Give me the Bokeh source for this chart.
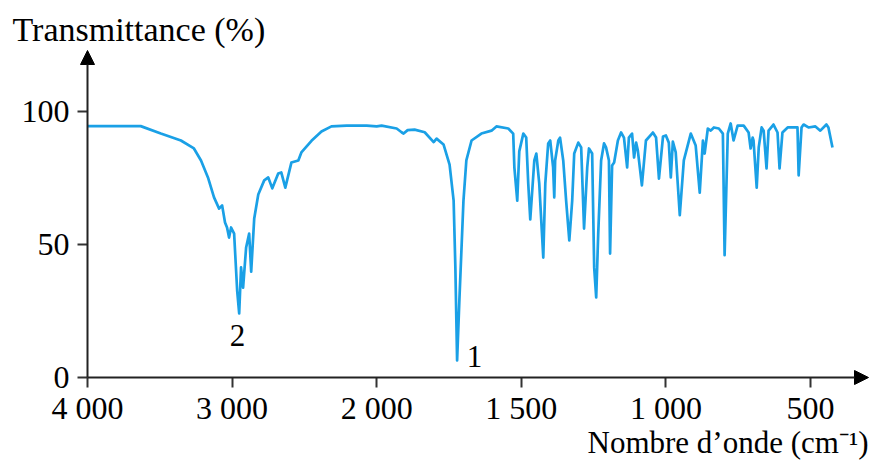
from bokeh.plotting import figure
from bokeh.models import Range1d, FixedTicker, Arrow, NormalHead, Label
from bokeh.embed import file_html
from bokeh.resources import INLINE

# ---- data ----
wavenumber = [4000, 3632, 3493, 3354, 3264, 3215, 3167, 3125, 3090, 3069, 3049, 3035, 3021, 3007,
              2986, 2965, 2951, 2938, 2924, 2903, 2882, 2868, 2847, 2819, 2778, 2750, 2722, 2681,
              2660, 2632, 2590, 2542, 2521, 2451, 2382, 2313, 2208, 2069, 2000,
              1983, 1931, 1914, 1907, 1893, 1869, 1834, 1803, 1793, 1769, 1748, 1734, 1728, 1722,
              1714, 1700, 1690, 1672, 1638, 1603, 1586, 1545, 1528, 1524, 1514, 1507, 1493, 1483,
              1476, 1469, 1455, 1448, 1438, 1424, 1417, 1407, 1400, 1390, 1386, 1383, 1372, 1366,
              1355, 1345, 1334, 1324, 1317, 1303, 1293, 1283, 1272, 1266, 1255, 1248, 1241, 1234,
              1224, 1214, 1207, 1197, 1193, 1186, 1179, 1166, 1155, 1145, 1134, 1128, 1117, 1110,
              1103, 1097, 1083, 1069, 1045, 1034, 1024, 1010, 1000, 990, 983, 976, 966, 952, 938,
              914, 897, 883, 872, 866, 855, 845, 834, 817, 803, 797, 786, 776, 766, 752, 731, 714,
              707, 700, 697, 686, 679, 669, 662, 652, 645, 628, 614, 607, 597, 579, 545, 541, 531,
              524, 507, 483, 466, 445, 438, 424]
transmittance = [94.5, 94.5, 91.7, 89.1, 86.1, 81.6, 75.2, 67.7, 63.5, 64.7, 58.3, 56.4, 52.6, 56.4,
                 54.1, 32.7, 24.1, 41.4, 33.8, 48.9, 54.1, 39.8, 59.8, 68.8, 74.1, 75.2, 71.1, 76.7,
                 77.1, 71.4, 80.8, 81.6, 84.6, 89.0, 92.5, 94.4, 94.7, 94.7, 94.4,
                 94.7, 93.6, 92.2, 91.7, 93.0, 93.2, 92.2, 88.5, 89.8, 87.6, 80.0, 66.5, 41.4, 6.4,
                 29.3, 66.5, 81.6, 89.1, 91.7, 92.8, 94.4, 93.6, 91.7, 79.0, 66.5, 85.0, 91.7, 90.2,
                 73.0, 59.4, 81.6, 84.2, 73.0, 45.1, 73.0, 88.0, 89.1, 79.0, 67.7, 81.6, 89.1, 90.2,
                 81.6, 66.5, 51.5, 66.5, 84.2, 88.3, 86.5, 56.0, 79.0, 86.1, 84.2, 41.4, 30.1, 54.1,
                 81.6, 88.0, 86.5, 81.6, 46.6, 79.7, 80.8, 89.1, 92.1, 90.2, 79.0, 90.2, 91.7, 82.7,
                 88.3, 85.3, 72.2, 89.1, 92.1, 90.2, 74.8, 90.6, 91.0, 88.3, 75.2, 88.7, 84.6, 61.0, 81.6,
                 91.7, 87.2, 69.5, 89.1, 84.2, 93.6, 92.8, 94.0, 93.6, 91.7, 46.0, 91.7, 95.5, 89.1, 94.7, 94.7, 92.1,
                 86.1, 90.2, 89.1, 71.4, 86.5, 94.0, 92.8, 78.6, 92.8, 95.1, 92.1, 78.6, 92.1, 94.0, 94.0, 76.0, 94.0,
                 95.1, 94.0, 94.4, 92.8, 95.1, 94.0, 86.5]

tick_wavenumbers = [4000, 3000, 2000, 1500, 1000, 500]
tick_labels = ["4 000", "3 000", "2 000", "1 500", "1 000", "500"]
y_ticks = [0, 50, 100]
peak_labels = ["2", "1"]
peak_wavenumbers = [2951, 1722]
peak_values = [24.1, 6.4]


# The x-axis changes scale at 2000 cm-1 (twice as wide below 2000)
def tx(w):
    return (4000 - w) / 1000 if w >= 2000 else 2 + (2000 - w) / 500


xs = [tx(w) for w in wavenumber]
tick_pos = [tx(w) for w in tick_wavenumbers]

FONT = "Liberation Serif"
W, H = 870, 462
PX_U = 144.6      # pixels per x unit
PX_Y = 2.66       # pixels per % transmittance
X0_PX, Y0_PX = 87, 377   # pixel position of the origin

x_start = -X0_PX / PX_U
x_end = (W - X0_PX) / PX_U
y_start = -(H - Y0_PX) / PX_Y
y_end = Y0_PX / PX_Y
ARROW_X = (868 - X0_PX) / PX_U
ARROW_Y = (Y0_PX - 50) / PX_Y

p = figure(width=W, height=H, output_backend="svg", toolbar_location=None,
           x_range=Range1d(x_start, x_end), y_range=Range1d(y_start, y_end),
           min_border=0)
p.outline_line_color = None
p.grid.visible = False
p.background_fill_color = "white"

p.line(xs, transmittance, line_color="#1AA0E6", line_width=2.7, line_join="round")

for ax in (p.xaxis[0], p.yaxis[0]):
    ax.fixed_location = 0
    ax.axis_line_color = None
    ax.major_tick_in = 0
    ax.major_tick_out = 10
    ax.major_tick_line_width = 2
    ax.major_tick_line_color = "#333333"
    ax.minor_tick_line_color = None
    ax.major_label_text_font = FONT
    ax.major_label_text_font_size = "32px"
    ax.major_label_text_color = "black"

p.xaxis.ticker = FixedTicker(ticks=tick_pos)
p.xaxis.major_label_overrides = {t: lab for t, lab in zip(tick_pos, tick_labels)}
p.xaxis.major_label_standoff = 2
p.yaxis.ticker = FixedTicker(ticks=y_ticks)
p.yaxis.major_label_standoff = 8

# axis lines with arrowheads
p.add_layout(Arrow(x_start=0, y_start=0, x_end=ARROW_X, y_end=0, line_width=2, line_color="#222222",
                   end=NormalHead(size=14, fill_color="black", line_color="black")))
p.add_layout(Arrow(x_start=0, y_start=0, x_end=0, y_end=ARROW_Y, line_width=2, line_color="#222222",
                   end=NormalHead(size=14, fill_color="black", line_color="black")))

p.add_layout(Label(x=(12 - X0_PX) / PX_U, y=(Y0_PX - 29) / PX_Y, text="Transmittance (%)",
                   text_font=FONT, text_font_size="34px", text_color="black",
                   text_baseline="alphabetic"))
p.add_layout(Label(x=(868 - X0_PX) / PX_U, y=(Y0_PX - 442) / PX_Y,
                   text="Nombre d\u2019onde (cm\u207b\u00b9)", text_font=FONT,
                   text_font_size="31px", text_color="black", text_align="right",
                   text_baseline="alphabetic"))

label_px = [(237, 335), (474, 356)]
for lab, w, v, (lx, ly) in zip(peak_labels, peak_wavenumbers, peak_values, label_px):
    p.add_layout(Label(x=tx(w) + ((lx - X0_PX) / PX_U - tx(w)),
                       y=v + ((Y0_PX - ly) / PX_Y - v),
                       text=lab, text_font=FONT, text_font_size="31px",
                       text_color="black", text_align="center", text_baseline="middle"))

open("out.html", "w").write(file_html(p, INLINE))
